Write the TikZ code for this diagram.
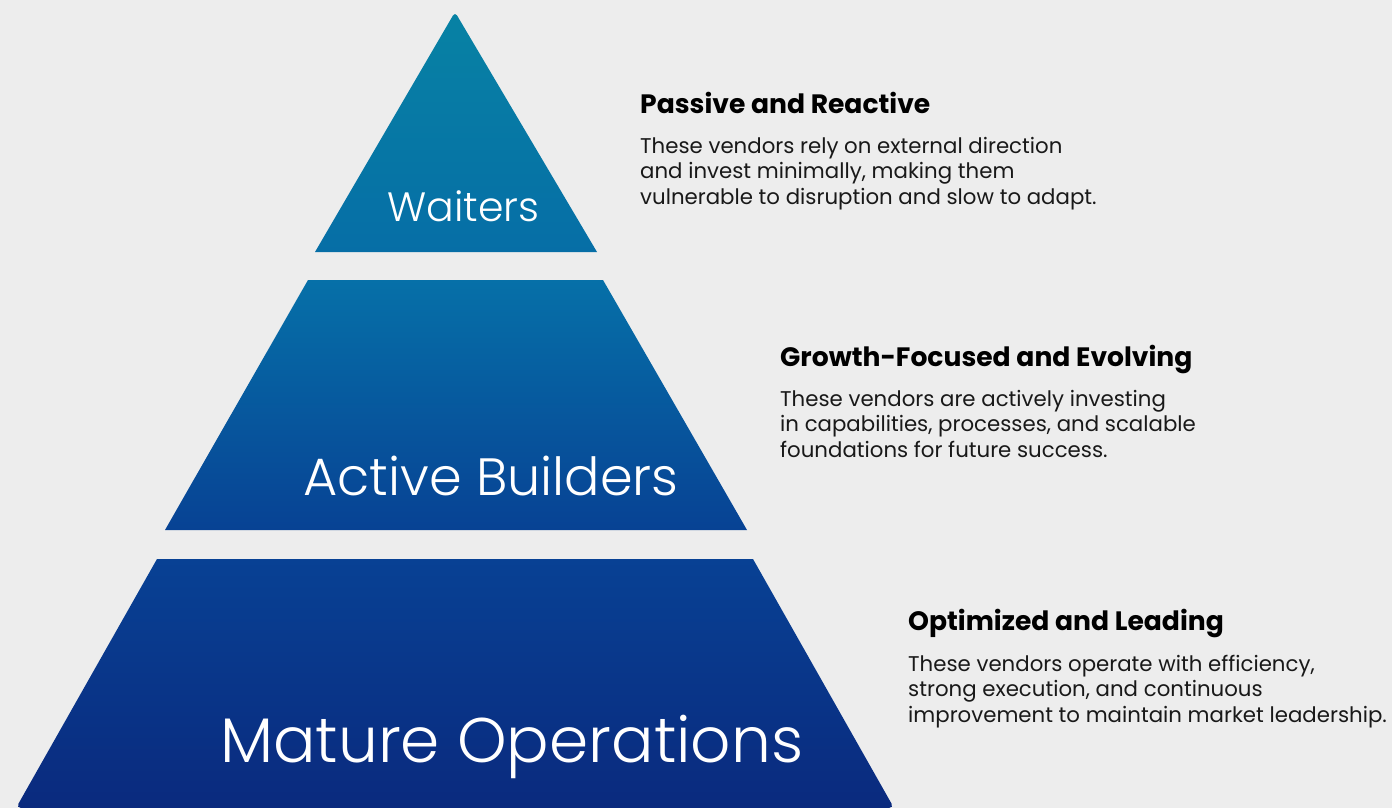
\documentclass[tikz,border=0pt]{standalone}
\usepackage{fontspec}
\setmainfont{Poppins}
\newfontfamily\poplight{Poppins Light}
\newfontfamily\popbold{Poppins Bold}
\begin{document}
\begin{tikzpicture}[x=1pt,y=-1pt,
  tiertext/.style={text=white, font=\poplight, inner sep=0pt, anchor=base west},
  headtext/.style={text=black, inner sep=0pt, anchor=base west, font=\popbold\fontsize{26.6}{30}\selectfont},
  bodytext/.style={text=black!90, inner sep=0pt, anchor=base west, align=left, font=\fontsize{21.3}{25.5}\selectfont}]
\definecolor{bg}{RGB}{237,237,237}
\definecolor{wTop}{RGB}{7,130,164}
\definecolor{wBot}{RGB}{6,110,166}
\definecolor{aTop}{RGB}{6,112,168}
\definecolor{aBot}{RGB}{7,66,148}
\definecolor{mTop}{RGB}{8,65,148}
\definecolor{mBot}{RGB}{10,42,126}
\useasboundingbox (0,0) rectangle (1392,808);
\fill[bg] (0,0) rectangle (1392,808);
% top tier
\shade[top color=wTop, bottom color=wBot]
  (315,252) [rounded corners=4pt] -- (455,12) [sharp corners] -- (597,252) -- cycle;
% middle tier
\shade[top color=aTop, bottom color=aBot]
  (308,280) -- (603,280) -- (747,530) -- (165,530) -- cycle;
% bottom tier
\shade[top color=mTop, bottom color=mBot]
  (157,559) -- (753,559) [rounded corners=5pt] -- (894,808) -- (16,808) [sharp corners] -- cycle;
% tier names
\node[tiertext, font=\poplight\fontsize{41}{48}\selectfont] (waiters) at (387,221) {Waiters};
\node[tiertext, font=\poplight\fontsize{52.5}{60}\selectfont] (builders) at (303,495) {Active Builders};
\node[tiertext, font=\poplight\fontsize{63}{72}\selectfont] (mature) at (220,762) {Mature Operations};
% descriptions (body nodes are placed by the baseline of their last line)
\node[headtext] (h1) at (640,113) {Passive and Reactive};
\node[bodytext] (b1) at (640,204) {These vendors rely on external direction\\and invest minimally, making them\\vulnerable to disruption and slow to adapt.};
\node[headtext] (h2) at (780,366) {Growth-Focused and Evolving};
\node[bodytext] (b2) at (780,457) {These vendors are actively investing\\in capabilities, processes, and scalable\\foundations for future success.};
\node[headtext] (h3) at (908,630) {Optimized and Leading};
\node[bodytext] (b3) at (908,722) {These vendors operate with efficiency,\\strong execution, and continuous\\improvement to maintain market leadership.};
\end{tikzpicture}
\end{document}
